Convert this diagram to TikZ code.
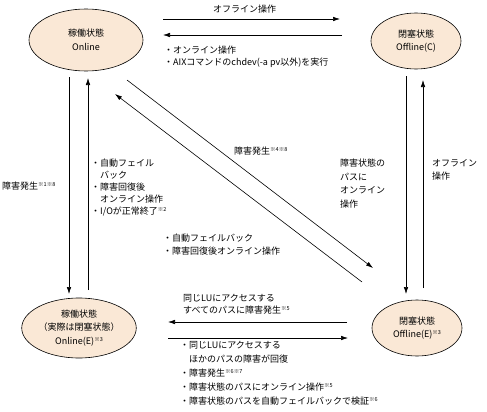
\documentclass[tikz,border=0pt]{standalone}
\usepackage{fontspec}
\setmainfont{Noto Sans CJK JP}
\usetikzlibrary{shapes.geometric,arrows.meta}
\newcommand{\nt}[1]{\raisebox{0.6ex}{\fontsize{5.5}{5.5}\selectfont #1}}
\newcommand{\ind}{\phantom{・}}
\definecolor{statefill}{RGB}{250,232,214}
\begin{document}
\begin{tikzpicture}[x=1pt,y=-1pt,
  font=\fontsize{9}{13}\selectfont,
  state/.style={ellipse,draw,fill=statefill,line width=0.6pt,inner sep=0pt,align=center,
    font=\fontsize{9}{13.5}\selectfont},
  arr/.style={line width=0.6pt,-{Latex[length=7pt,width=4.5pt]}},
  lbl/.style={inner sep=0pt,anchor=north west,align=left},
  lbw/.style={inner sep=0pt,anchor=west}]
\useasboundingbox (0,0) rectangle (487,412);
% states
\node[state,minimum width=114pt,minimum height=62pt] (on) at (86,40) {稼働状態\\Online};
\node[state,minimum width=90pt,minimum height=56pt] (offc) at (416,41) {閉塞状態\\Offline(C)};
\node[state,minimum width=100pt,minimum height=60pt] (one) at (79,328) {稼働状態\\（実際は閉塞状態）\\Online(E)\nt{※3}};
\node[state,minimum width=90pt,minimum height=56pt] (offe) at (417,328) {閉塞状態\\Offline(E)\nt{※3}};
% connector end points
\coordinate (t1a) at (163,19);  \coordinate (t1b) at (340,19);
\coordinate (t2a) at (342,35);  \coordinate (t2b) at (163,35);
\coordinate (b1a) at (347,322); \coordinate (b1b) at (168,322);
\coordinate (b2a) at (168,338); \coordinate (b2b) at (348,338);
\coordinate (l1a) at (69,77);   \coordinate (l1b) at (69,294);
\coordinate (l2a) at (88,290);  \coordinate (l2b) at (88,78);
\coordinate (r1a) at (406,76);  \coordinate (r1b) at (406,294);
\coordinate (r2a) at (423,288); \coordinate (r2b) at (423,80);
\coordinate (d1a) at (127,80);  \coordinate (d1b) at (373,268);
\coordinate (d2a) at (362,282); \coordinate (d2b) at (115,94);
% connectors
\draw[arr] (t1a) -- (t1b);
\draw[arr] (t2a) -- (t2b);
\draw[arr] (b1a) -- (b1b);
\draw[arr] (b2a) -- (b2b);
\draw[arr] (l1a) -- (l1b);
\draw[arr] (l2a) -- (l2b);
\draw[arr] (r1a) -- (r1b);
\draw[arr] (r2a) -- (r2b);
\draw[arr] (d1a) -- (d1b);
\draw[arr] (d2a) -- (d2b);
% labels
\node[lbw] (lt) at (213,9) {オフライン操作};
\node[lbl,font=\fontsize{9}{12}\selectfont] (ltb) at (164,46) {・オンライン操作\\・AIXコマンドのchdev(-a pv以外)を実行};
\node[lbw] (ll) at (2,186) {障害発生\nt{※1※8}};
\node[lbl,font=\fontsize{9}{12}\selectfont] (llb) at (91,159) {・自動フェイル\\\ind バック\\・障害回復後\\\ind オンライン操作\\・I/Oが正常終了\nt{※2}};
\node[lbw] (ld) at (234,151) {障害発生\nt{※4※8}};
\node[lbl,font=\fontsize{9}{13.5}\selectfont] (lr1) at (340,159) {障害状態の\\パスに\\オンライン\\操作};
\node[lbl,font=\fontsize{9}{13.5}\selectfont] (lr2) at (432,159) {オフライン\\操作};
\node[lbl] (lm) at (163,234) {・自動フェイルバック\\・障害回復後オンライン操作};
\node[lbl,font=\fontsize{9}{12}\selectfont] (lba) at (183,294) {同じLUにアクセスする\\すべてのパスに障害発生\nt{※5}};
\node[lbl,font=\fontsize{9}{14}\selectfont] (lbb) at (180,341) {・同じLUにアクセスする\\\ind ほかのパスの障害が回復\\・障害発生\nt{※6※7}\\・障害状態のパスにオンライン操作\nt{※5}\\・障害状態のパスを自動フェイルバックで検証\nt{※6}};
\end{tikzpicture}
\end{document}
